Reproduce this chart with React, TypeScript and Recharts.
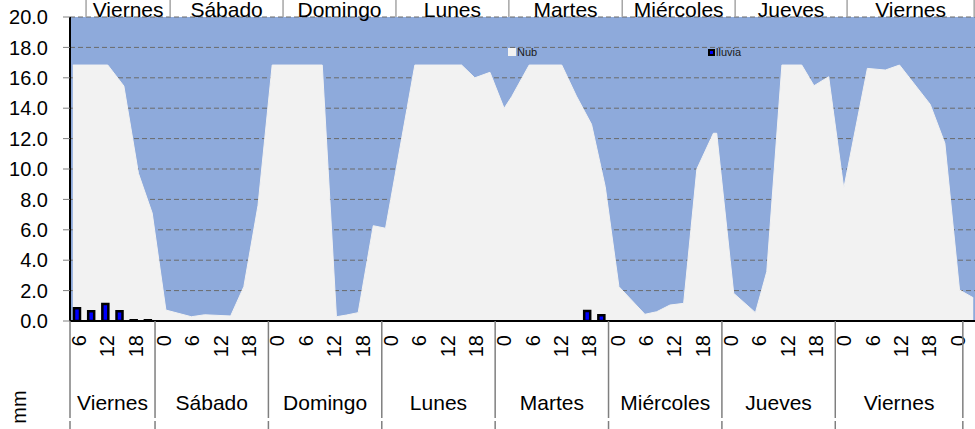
import React from 'react';
import { ComposedChart, Area, Bar, XAxis, YAxis, CartesianGrid } from 'recharts';

const FONT = '"Liberation Sans", Arial, sans-serif';

// Rain (mm) every 3 hours, hours counted from Friday 00:00
const rainHours = [
  6, 9, 12, 15, 18, 21,
  24, 27, 30, 33, 36, 39, 42, 45,
  48, 51, 54, 57, 60, 63, 66, 69,
  72, 75, 78, 81, 84, 87, 90, 93,
  96, 99, 102, 105, 108, 111, 114, 117,
  120, 123, 126, 129, 132, 135, 138, 141,
  144, 147, 150, 153, 156, 159, 162, 165,
  168, 171, 174, 177, 180, 183, 186, 189,
  192, 195,
];
const rainMm = [
  0.84, 0.64, 1.12, 0.64, 0.05, 0.05,
  0, 0, 0, 0, 0, 0, 0, 0,
  0, 0, 0, 0, 0, 0, 0, 0,
  0, 0, 0, 0, 0, 0, 0, 0,
  0, 0, 0, 0, 0, 0, 0.66, 0.38,
  0, 0, 0, 0, 0, 0, 0, 0,
  0, 0, 0, 0, 0, 0, 0, 0,
  0, 0, 0, 0, 0, 0, 0, 0,
  0, 0,
];

// Cloud cover series (secondary time axis), hours from Friday 00:00
const cloudHours = [
  5.1, 12.5, 15.9, 19.0, 21.9, 24.8, 30.2, 33.0, 38.5, 41.3, 44.3, 47.3,
  57.9, 60.9, 63.0, 65.5, 68.7, 71.3, 77.5, 87.4, 90.2, 93.4, 96.4, 98.0,
  101.7, 108.6, 111.7, 114.9, 117.8, 120.7, 126.2, 128.7, 131.5, 134.4, 137.2, 140.7,
  141.4, 145.0, 149.6, 152.0, 155.2, 159.4, 162.0, 165.1, 168.3, 173.3, 177.1, 180.1,
  186.6, 189.7, 192.8, 195.7,
];
const cloudValues = [
  16.84, 16.84, 15.46, 9.7, 7.1, 0.72, 0.28, 0.41, 0.33, 2.26, 7.6, 16.84,
  16.84, 0.28, 0.39, 0.55, 6.27, 6.1, 16.84, 16.84, 16.0, 16.36, 13.99, 14.76,
  16.84, 16.84, 14.8, 12.94, 8.84, 2.26, 0.44, 0.61, 1.05, 1.16, 10.0, 12.35,
  12.35, 1.82, 0.55, 3.25, 16.84, 16.84, 15.48, 16.07, 8.73, 16.62, 16.51, 16.84,
  14.25, 11.69, 2.04, 1.53,
];

const hourTicks = [
  6, 12, 18, 24, 30, 36, 42, 48, 54, 60, 66, 72, 78, 84, 90, 96, 102, 108, 114,
  120, 126, 132, 138, 144, 150, 156, 162, 168, 174, 180, 186, 192,
];
const dayNames = ['Viernes', 'Sábado', 'Domingo', 'Lunes', 'Martes', 'Miércoles', 'Jueves', 'Viernes'];
const dayBounds = [4.5, 22.5, 46.5, 70.5, 94.5, 118.5, 142.5, 166.5, 193.5];
const topDayBounds = [7.9, 25.7, 49.6, 73.5, 97.4, 121.4, 145.3, 169.0, 195.9];
const yTicks = [0, 2, 4, 6, 8, 10, 12, 14, 16, 18, 20];

const X_DOMAIN: [number, number] = [4.5, 196.5];
const PLOT_H = 304;

const rainData = rainHours.map((t, i) => ({ t, lluvia: rainMm[i] }));
const cloudData = cloudHours.map((t, i) => ({ t, nub: cloudValues[i] }));

const dayCenters = dayNames.map((_, i) => (dayBounds[i] + dayBounds[i + 1]) / 2);
const topCenters = dayNames.map((_, i) => (topDayBounds[i] + topDayBounds[i + 1]) / 2);

const allTicks = Array.from(
  new Set([...hourTicks, ...dayBounds, ...dayCenters, ...topDayBounds, ...topCenters])
).sort((a, b) => a - b);

const AxisTick = (props: any) => {
  const { x, y, payload } = props;
  const v = payload.value;
  const parts: any[] = [];
  if (hourTicks.includes(v)) {
    const tx = x + 2;
    const ty = y + 14;
    parts.push(
      <text
        key="h"
        x={tx}
        y={ty}
        transform={`rotate(-90, ${tx}, ${ty})`}
        textAnchor="end"
        dominantBaseline="central"
        fontSize={20}
        fontFamily={FONT}
        fill="#000"
      >
        {String(v % 24)}
      </text>
    );
  }
  if (dayBounds.includes(v)) {
    parts.push(<line key="s1" x1={x} x2={x} y1={y} y2={y + 97} stroke="#7f7f7f" strokeWidth={1.5} />);
    parts.push(<line key="s2" x1={x} x2={x} y1={y + 100} y2={y + 108} stroke="#7f7f7f" strokeWidth={1.5} />);
  }
  const ci = dayCenters.indexOf(v);
  if (ci >= 0) {
    parts.push(
      <text key="d" x={x} y={y + 89} textAnchor="middle" fontSize={21} fontFamily={FONT} fill="#000">
        {dayNames[ci]}
      </text>
    );
  }
  const top = y - PLOT_H;
  if (topDayBounds.includes(v)) {
    parts.push(<line key="ts" x1={x} x2={x} y1={top - 17} y2={top} stroke="#a6a6a6" strokeWidth={1.5} />);
  }
  const ti = topCenters.indexOf(v);
  if (ti >= 0) {
    parts.push(
      <text key="td" x={x} y={top - 0.5} textAnchor="middle" fontSize={21} fontFamily={FONT} fill="#000">
        {dayNames[ti]}
      </text>
    );
  }
  return <g>{parts}</g>;
};

export default function App() {
  return (
    <div
      style={{
        position: 'fixed',
        left: 0,
        top: 0,
        width: 975,
        height: 429,
        overflow: 'hidden',
        background: '#ffffff',
        fontFamily: FONT,
      }}
    >
      <ComposedChart
        width={977}
        height={429}
        data={rainData}
        margin={{ top: 17, right: 0, bottom: 0, left: 0 }}
      >
        <CartesianGrid
          xAxisId="b"
          vertical={false}
          stroke="#6b6b6b"
          strokeDasharray="5 3"
          fill="#8eaadb"
          fillOpacity={1}
        />
        <XAxis
          xAxisId="b"
          orientation="bottom"
          dataKey="t"
          type="number"
          domain={X_DOMAIN}
          ticks={allTicks}
          height={108}
          axisLine={{ stroke: '#000', strokeWidth: 2 }}
          tickLine={false}
          tickSize={0}
          tickMargin={0}
          interval={0}
          tick={(p: any) => <AxisTick {...p} />}
          allowDataOverflow
        />
        <XAxis
          xAxisId="r"
          dataKey="t"
          type="number"
          domain={X_DOMAIN}
          ticks={rainHours}
          allowDataOverflow
          hide
        />
        <YAxis
          domain={[0, 20]}
          ticks={yTicks}
          width={70}
          interval={0}
          tickFormatter={(v: number) => v.toFixed(1)}
          tick={{ fontSize: 20, fill: '#000', fontFamily: FONT }}
          tickSize={7}
          tickMargin={15}
          tickLine={{ stroke: '#808080' }}
          axisLine={{ stroke: '#000', strokeWidth: 2 }}
          allowDataOverflow
        />
        <Area
          xAxisId="b"
          data={cloudData}
          dataKey="nub"
          type="linear"
          fill="#f2f2f2"
          fillOpacity={1}
          stroke="#f2f2f2"
          strokeWidth={1}
          strokeLinejoin="round"
          dot={false}
          activeDot={false}
          isAnimationActive={false}
        />
        <Bar
          xAxisId="r"
          dataKey="lluvia"
          barSize={6}
          fill="#0000ff"
          stroke="#000"
          strokeWidth={2.5}
          isAnimationActive={false}
        />
      </ComposedChart>
      <div
        style={{
          position: 'absolute',
          left: 508,
          top: 46,
          height: 12,
          display: 'flex',
          alignItems: 'center',
          fontSize: 11,
          color: '#1a1a1a',
        }}
      >
        <span style={{ display: 'inline-block', width: 8, height: 8, background: '#f2f2f2', marginRight: 1 }} />
        Nub
      </div>
      <div
        style={{
          position: 'absolute',
          left: 708,
          top: 46,
          height: 12,
          display: 'flex',
          alignItems: 'center',
          fontSize: 11,
          color: '#1a1a1a',
        }}
      >
        <span
          style={{
            display: 'inline-block',
            width: 3,
            height: 3,
            background: '#0000ff',
            border: '2.5px solid #000',
            marginRight: 1,
          }}
        />
        lluvia
      </div>
      <div
        style={{
          position: 'absolute',
          left: 19,
          top: 407,
          transform: 'translate(-50%, -50%) rotate(-90deg)',
          fontSize: 20,
          color: '#000',
          whiteSpace: 'nowrap',
        }}
      >
        mm
      </div>
    </div>
  );
}
